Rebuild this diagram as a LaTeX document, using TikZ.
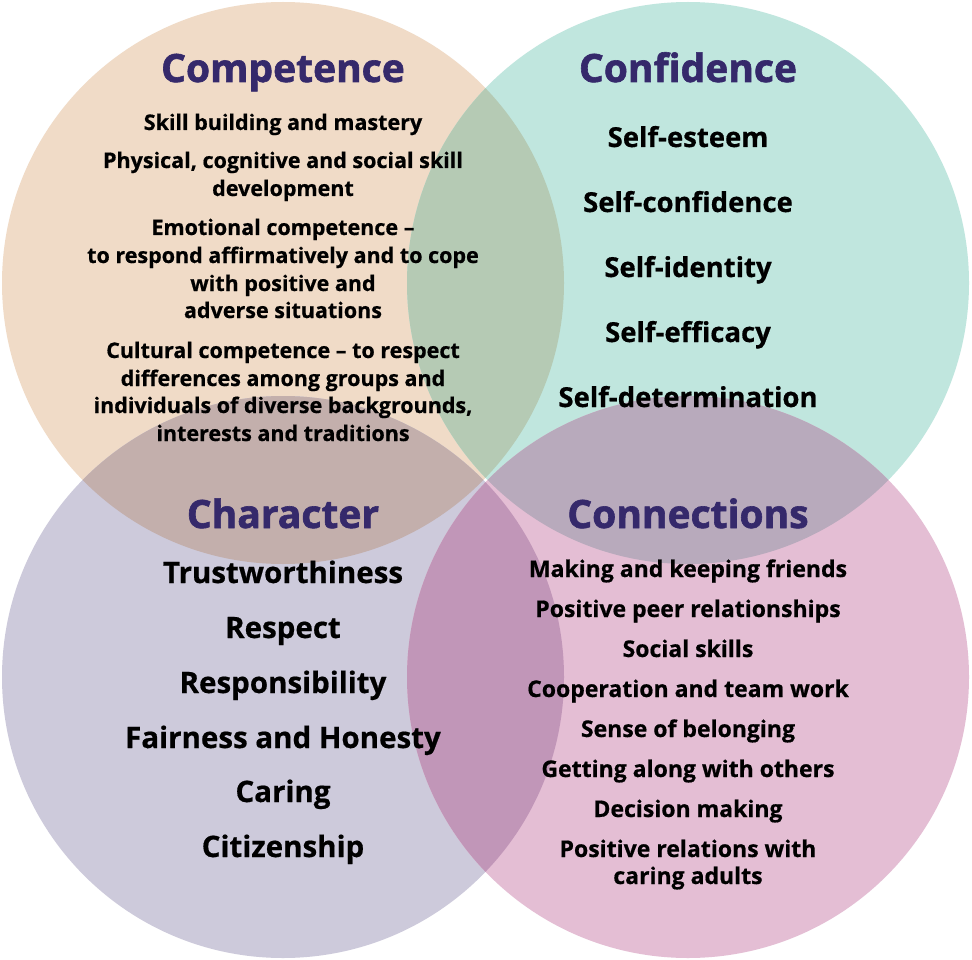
\documentclass[tikz,border=0pt]{standalone}
\usepackage{fontspec}
\setmainfont{Open Sans}[BoldFeatures={FakeBold=0.6}]
\newfontfamily\ttlfont{Open Sans}[BoldFeatures={FakeBold=1.6}]
\definecolor{compc}{HTML}{F0DBC7}
\definecolor{confc}{HTML}{C0E6DE}
\definecolor{charc}{HTML}{CDCADB}
\definecolor{connc}{HTML}{E4BED4}
\definecolor{ovAB}{HTML}{B5CAB4}
\definecolor{ovAC}{HTML}{C3AFAC}
\definecolor{ovBD}{HTML}{B8AABC}
\definecolor{ovCD}{HTML}{C196B8}
\definecolor{titlec}{HTML}{35296B}
\tikzset{
  ttl/.style={font=\ttlfont\fontsize{39}{44}\selectfont\bfseries, text=titlec, inner sep=0pt, anchor=base},
  compitm/.style={font=\fontsize{21.5}{28}\selectfont\bfseries, inner sep=0pt, anchor=base},
  confitm/.style={font=\fontsize{27.5}{32}\selectfont\bfseries, inner sep=0pt, anchor=base},
  charitm/.style={font=\fontsize{29.5}{34}\selectfont\bfseries, inner sep=0pt, anchor=base},
  connitm/.style={font=\fontsize{23}{28}\selectfont\bfseries, inner sep=0pt, anchor=base},
}
\begin{document}
\begin{tikzpicture}[x=1pt,y=-1pt]
\useasboundingbox (0,0) rectangle (972,960);
\fill[white] (0,0) rectangle (972,960);
% circles
\fill[compc] (283,283) circle (281pt);
\fill[confc] (688,283) circle (281pt);
\fill[charc] (283,677) circle (281pt);
\fill[connc] (688,677) circle (281pt);
% overlaps
\begin{scope}\clip (283,283) circle (281pt); \fill[ovAB] (688,283) circle (281pt);\end{scope}
\begin{scope}\clip (283,283) circle (281pt); \fill[ovAC] (283,677) circle (281pt);\end{scope}
\begin{scope}\clip (688,283) circle (281pt); \fill[ovBD] (688,677) circle (281pt);\end{scope}
\begin{scope}\clip (283,677) circle (281pt); \fill[ovCD] (688,677) circle (281pt);\end{scope}
% Competence
\node[ttl] (tcomp) at (283,82) {Competence};
\node[compitm] (c1) at (283,130) {Skill building and mastery};
\node[compitm] (c2a) at (283,168) {Physical, cognitive and social skill};
\node[compitm] (c2b) at (283,196) {development};
\node[compitm] (c3a) at (283,235) {Emotional competence –};
\node[compitm] (c3b) at (283,263) {to respond affirmatively and to cope};
\node[compitm] (c3c) at (283,291) {with positive and};
\node[compitm] (c3d) at (283,318) {adverse situations};
\node[compitm] (c4a) at (283,358) {Cultural competence – to respect};
\node[compitm] (c4b) at (283,386) {differences among groups and};
\node[compitm] (c4c) at (283,413) {individuals of diverse backgrounds,};
\node[compitm] (c4d) at (283,441) {interests and traditions};
% Confidence
\node[ttl] (tconf) at (688,82) {Confidence};
\node[confitm] (f1) at (688,147) {Self-esteem};
\node[confitm] (f2) at (688,212) {Self-confidence};
\node[confitm] (f3) at (688,277) {Self-identity};
\node[confitm] (f4) at (688,342) {Self-efficacy};
\node[confitm] (f5) at (688,407) {Self-determination};
% Character
\node[ttl] (tchar) at (283,528) {Character};
\node[charitm] (h1) at (283,583) {Trustworthiness};
\node[charitm] (h2) at (283,638) {Respect};
\node[charitm] (h3) at (283,693) {Responsibility};
\node[charitm] (h4) at (283,748) {Fairness and Honesty};
\node[charitm] (h5) at (283,802) {Caring};
\node[charitm] (h6) at (283,857) {Citizenship};
% Connections
\node[ttl] (tconn) at (688,528) {Connections};
\node[connitm] (n1) at (688,577) {Making and keeping friends};
\node[connitm] (n2) at (688,617) {Positive peer relationships};
\node[connitm] (n3) at (688,657) {Social skills};
\node[connitm] (n4) at (688,697) {Cooperation and team work};
\node[connitm] (n5) at (688,737) {Sense of belonging};
\node[connitm] (n6) at (688,777) {Getting along with others};
\node[connitm] (n7) at (688,817) {Decision making};
\node[connitm] (n8a) at (688,857) {Positive relations with};
\node[connitm] (n8b) at (688,884) {caring adults};
\end{tikzpicture}
\end{document}
